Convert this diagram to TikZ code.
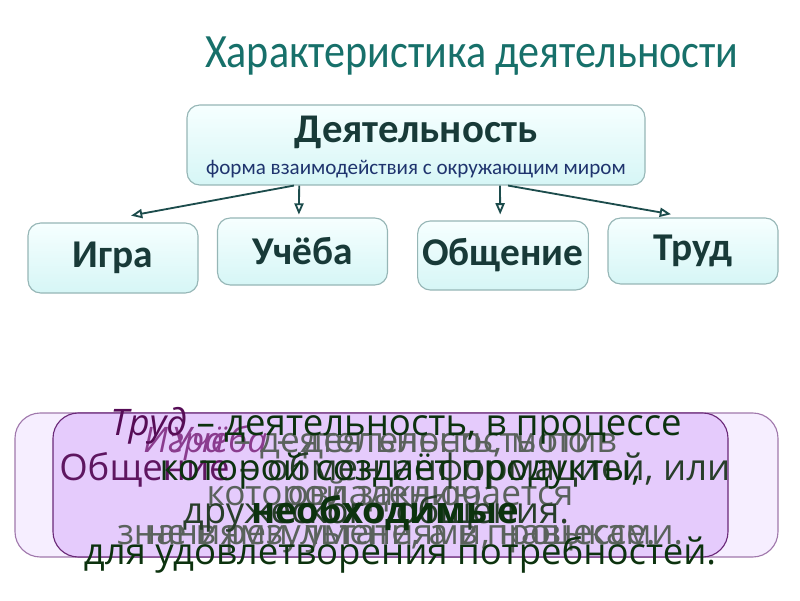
\documentclass[tikz,border=0pt]{standalone}
\usepackage{fontspec}
\setmainfont{Carlito}
\setsansfont{Carlito}
\newfontfamily\panelfont{Open Sans}
\usepackage{tikz}
\usetikzlibrary{arrows.meta, positioning}

\definecolor{titleTeal}{RGB}{23,112,106}
\definecolor{boxText}{RGB}{24,58,56}
\definecolor{subNavy}{RGB}{31,52,110}
\definecolor{arrowTeal}{RGB}{28,76,76}
\definecolor{boxLine}{RGB}{150,182,182}
\definecolor{boxTop}{RGB}{246,255,255}
\definecolor{boxBottom}{RGB}{214,246,246}
\definecolor{lilacPale}{RGB}{246,238,255}
\definecolor{lilacPaleLine}{RGB}{160,120,172}
\definecolor{lilac}{RGB}{229,203,252}
\definecolor{lilacLine}{RGB}{106,40,120}
\definecolor{plumDark}{RGB}{86,12,86}
\definecolor{plumMid}{RGB}{94,22,96}
\definecolor{plumLight}{RGB}{138,60,142}
\definecolor{greenDark}{RGB}{12,50,14}
\definecolor{greenGrey}{RGB}{40,62,42}
\definecolor{greyText}{RGB}{90,98,92}

\begin{document}
\begin{tikzpicture}[
    font=\sffamily,
    box/.style={draw=boxLine, line width=0.8pt, rounded corners=9pt, top color=boxTop, bottom color=boxBottom},
    kind/.style={box, minimum width=4.25cm, minimum height=1.7cm, text=boxText, font=\sffamily\bfseries\fontsize{28}{30}\selectfont},
    arr/.style={draw=arrowTeal, line width=1.3pt, -{Triangle[open, length=8pt, width=6.5pt]}},
    lilacBox/.style={rounded corners=18pt, line width=0.8pt},
    bigLine/.style={anchor=base, font=\panelfont\fontsize{26}{28}\selectfont},
    greyLine/.style={anchor=base, text=greyText, font=\panelfont\fontsize{25}{27}\selectfont}
]
    \useasboundingbox (0,0) rectangle (20,15);

    % Title
    \node [anchor=base, text=titleTeal, font=\sffamily\fontsize{34}{36}\selectfont] (title) at (11.8, 13.3) {\scalebox{0.88}[1]{Характеристика деятельности}};

    % Main box
    \node [box, minimum width=11.45cm, minimum height=2cm] (act) at (10.4, 11.375) {};
    \node [text=boxText, font=\sffamily\bfseries\fontsize{29}{31}\selectfont] (actName) at (10.4, 11.7) {Деятельность};
    \node [text=subNavy, font=\sffamily\fontsize{15}{17}\selectfont] (actSub) at (10.4, 10.78) {форма взаимодействия с окружающим миром};

    % Kinds of activity
    \foreach \name/\x/\y/\h/\txt in {
        game/2.825/8.55/1.75/Игра,
        study/7.5625/8.7125/1.675/Учёба,
        talk/12.575/8.6125/1.725/\raisebox{-0.3cm}{Общение},
        work/17.325/8.725/1.65/Труд
    } {
        \node [kind, minimum height=\h cm] (\name) at (\x, \y) {\txt};
    }

    % Arrows from main box
    \draw [arr] ([xshift=-3.05cm]act.south) -- ([xshift=0.45cm, yshift=0.17cm]game.north);
    \draw [arr] ([xshift=-2.92cm]act.south) -- ([xshift=-0.09cm, yshift=0.07cm]study.north);
    \draw [arr] ([xshift=2.1cm]act.south) -- ([xshift=-0.07cm, yshift=0.15cm]talk.north);
    \draw [arr] ([xshift=2.3cm]act.south) -- ([xshift=-0.55cm, yshift=0.08cm]work.north);

    % Lilac panels
    \node [lilacBox, fill=lilacPale, draw=lilacPaleLine, minimum width=19.075cm, minimum height=3.6cm] (panelBack) at (9.9125, 2.875) {};
    \node [lilacBox, fill=lilac, draw=lilacLine, minimum width=16.875cm, minimum height=3.6cm] (panel) at (9.7625, 2.875) {};

    % Overlapping definitions (grey layers)
    \node [greyLine] (studyA) at (9.5, 3.7) {{\color{plumLight}\itshape Учёба} – деятельность по};
    \node [greyLine] (gameA) at (9.5, 3.7) {{\color{plumLight}\itshape Игра} – деятельность, мотив};
    \node [greyLine] (gameB) at (9.75, 2.375) {которой заключается};
    \node [greyLine] (studyB) at (9.62, 2.375) {овладению};
    \node [greyLine] (gameC) at (10, 1.4) {не в результате, а в процессе.};
    \node [greyLine] (studyC) at (10, 1.4) {знаниями, умениями, навыками.};

    % Communication
    \node [bigLine, text=greenGrey] (talkA) at (9.87, 3.0) {{\color{plumMid}Общение} – обмен информацией, или};
    \node [bigLine, text=greenGrey] (talkB) at (9.4, 1.925) {дружеского общения.};

    % Labour
    \node [bigLine, text=greenDark] (workA) at (9.9, 4.125) {{\color{plumDark}\itshape Труд} – деятельность, в процессе};
    \node [bigLine, text=greenDark] (workB) at (10, 3.0) {которой создаёт продукты,};
    \node [bigLine, text=greenDark, font=\panelfont\bfseries\fontsize{26}{28}\selectfont] (workC) at (9.63, 1.925) {необходимые};
    \node [bigLine, text=greenDark] (workD) at (10, 0.9) {для удовлетворения потребностей.};
\end{tikzpicture}
\end{document}
